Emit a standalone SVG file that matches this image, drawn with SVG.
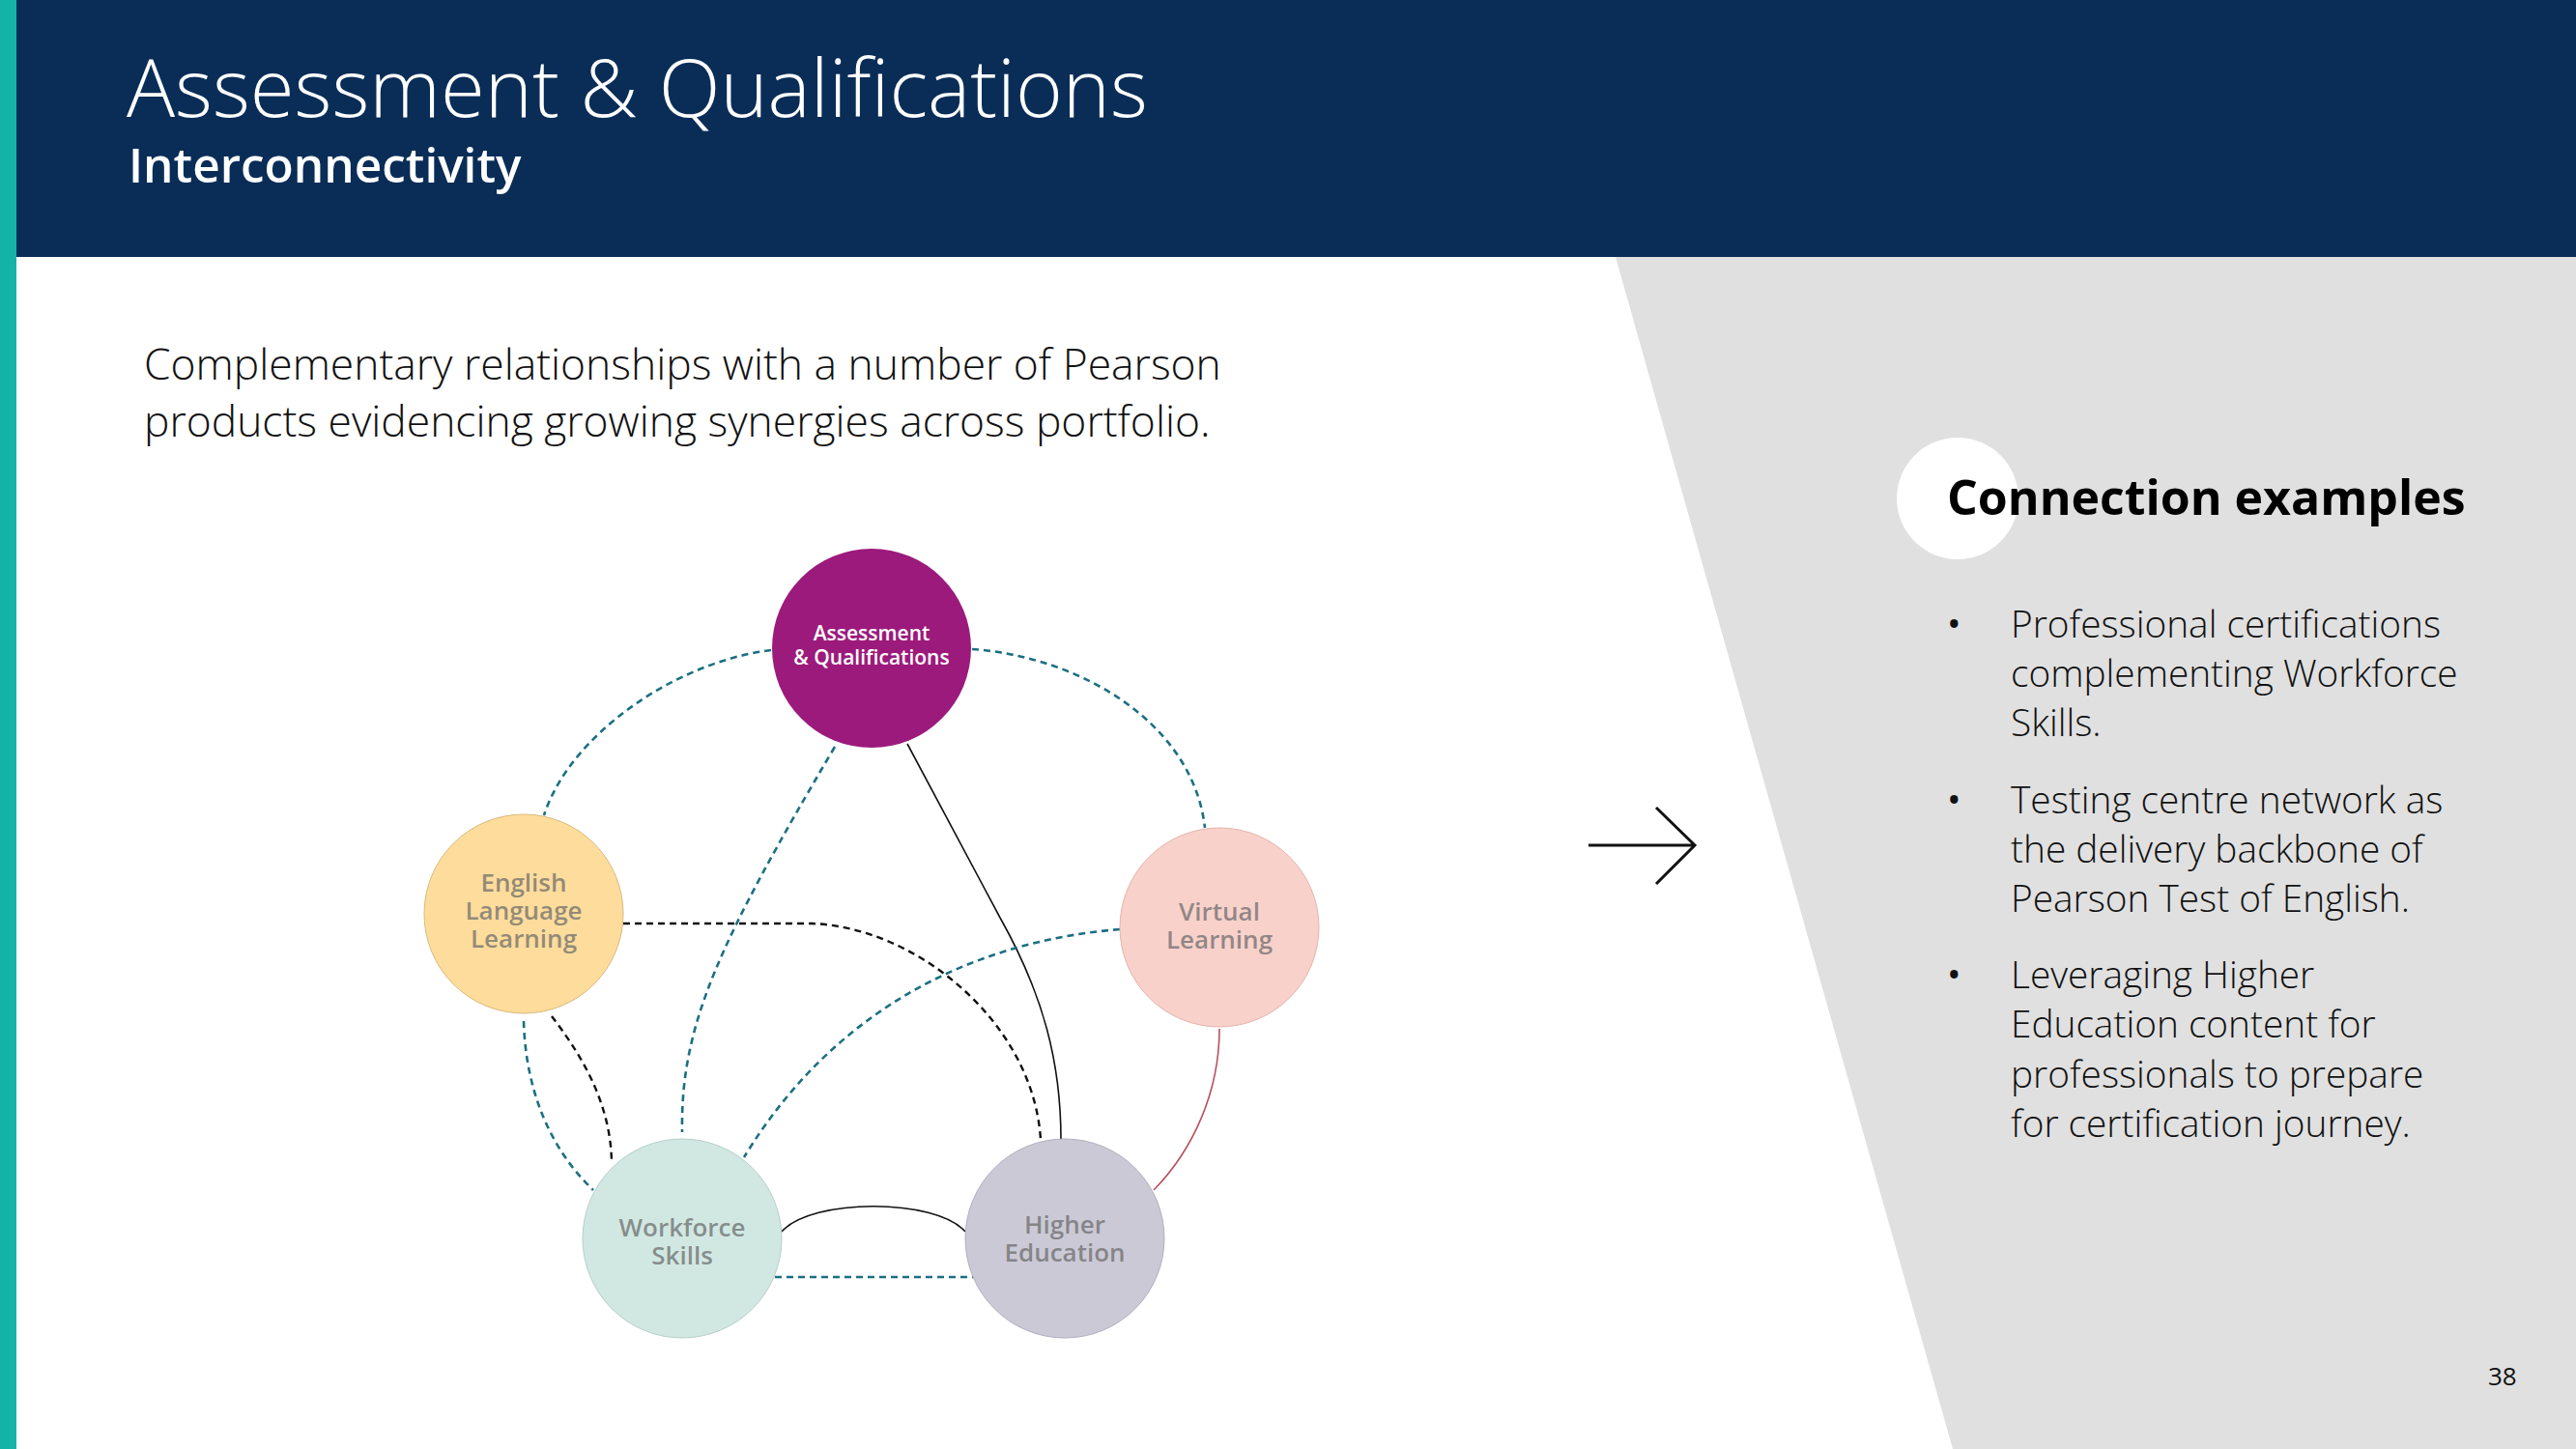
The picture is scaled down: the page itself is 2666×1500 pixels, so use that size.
<svg xmlns="http://www.w3.org/2000/svg" width="2666" height="1500" viewBox="0 0 2666 1500">
<style>
.light{font-family:"Open Sans","Liberation Sans",sans-serif;font-weight:300}
.nl{font-family:"Open Sans","Liberation Sans",sans-serif;font-weight:600;font-size:26px;text-anchor:middle;fill:#6a6a6a;fill-opacity:0.72}
.teal{fill:none;stroke:#1b6f82;stroke-width:2.6;stroke-dasharray:7 5}
.blk{fill:none;stroke:#111;stroke-width:2.4;stroke-dasharray:7 5}
.sol{fill:none;stroke:#111;stroke-width:1.6}
.body{font-family:"Open Sans","Liberation Sans",sans-serif;font-weight:300;font-size:38.8px;fill:#111}
.bul{font-weight:400}
</style>
<rect width="2666" height="1500" fill="#ffffff"/>
<polygon points="1672,266 2666,266 2666,1500 2021,1500" fill="#e0e0e0"/>
<rect x="0" y="0" width="2666" height="266" fill="#0a2d57"/>
<rect x="0" y="0" width="17" height="1500" fill="#14b3a8"/>
<text class="light" x="131" y="121" font-size="83.4" fill="#ffffff">Assessment &amp; Qualifications</text>
<text x="133" y="189" font-family="'Open Sans','Liberation Sans',sans-serif" font-weight="600" font-size="49.5" fill="#ffffff">Interconnectivity</text>
<text class="light" x="149" y="393" font-size="44.4" fill="#111">Complementary relationships with a number of Pearson</text>
<text class="light" x="149" y="452" font-size="44.4" fill="#111">products evidencing growing synergies across portfolio.</text>

<g id="connectors">
<path class="teal" d="M798,673 C700,685 590,760 563,844"/>
<path class="teal" d="M1006,672 C1120,680 1235,750 1247,857"/>
<path class="teal" d="M542,1057 C544,1130 570,1190 614,1232"/>
<path class="blk" d="M571,1052 C600,1090 632,1140 633,1203"/>
<path class="teal" d="M864,773 C745,975 704,1060 706,1172"/>
<path class="blk" d="M645,956 L840,956 C950,960 1070,1060 1077,1180"/>
<path class="sol" d="M939,770 L1035,950 C1080,1030 1098,1100 1098,1180"/>
<path class="teal" d="M1159,962 C1000,975 860,1050 770,1198"/>
<path fill="none" stroke="#b8505f" stroke-width="1.6" d="M1262,1065 C1262,1130 1235,1190 1194,1232"/>
<path class="sol" d="M809,1275 C840,1240 968,1240 999,1275" stroke-width="2"/>
<path class="teal" d="M802,1322 L1009,1322"/>
</g>

<g id="node-aq">
<circle cx="902" cy="671" r="103" fill="#9c1a7c"/>
<text x="902" y="663" font-family="'Open Sans','Liberation Sans',sans-serif" font-weight="600" font-size="21" fill="#ffffff" text-anchor="middle">Assessment</text>
<text x="902" y="688" font-family="'Open Sans','Liberation Sans',sans-serif" font-weight="600" font-size="21" fill="#ffffff" text-anchor="middle">&amp; Qualifications</text>
</g>
<g id="node-ell">
<circle cx="542" cy="946" r="103" fill="#fddc9c" stroke="#d9b97e" stroke-width="1"/>
<text class="nl" x="542" y="923">English</text>
<text class="nl" x="542" y="952">Language</text>
<text class="nl" x="542" y="981">Learning</text>
</g>
<g id="node-vl">
<circle cx="1262" cy="960" r="103" fill="#f8d1ca" stroke="#e4b5ad" stroke-width="1"/>
<text class="nl" x="1262" y="953">Virtual</text>
<text class="nl" x="1262" y="982">Learning</text>
</g>
<g id="node-ws">
<circle cx="706" cy="1282" r="103" fill="#d1e8e2" stroke="#b7cfc9" stroke-width="1"/>
<text class="nl" x="706" y="1280">Workforce</text>
<text class="nl" x="706" y="1309">Skills</text>
</g>
<g id="node-he">
<circle cx="1102" cy="1282" r="103" fill="#cbc9d6" stroke="#b2b0bf" stroke-width="1"/>
<text class="nl" x="1102" y="1277">Higher</text>
<text class="nl" x="1102" y="1306">Education</text>
</g>

<g id="arrow">
<path d="M1644,875 L1754,875 M1714,836 L1754,875 L1714,915" fill="none" stroke="#111" stroke-width="3"/>
</g>

<g id="panel">
<circle cx="2026" cy="516" r="63" fill="#ffffff"/>
<text x="2015" y="533" font-family="'Open Sans','Liberation Sans',sans-serif" font-weight="700" font-size="50" fill="#000">Connection examples</text>
<g class="body">
<text class="bul" x="2015" y="660">•</text>
<text x="2081" y="660">Professional certifications</text>
<text x="2081" y="711">complementing Workforce</text>
<text x="2081" y="762">Skills.</text>
<text class="bul" x="2015" y="842">•</text>
<text x="2081" y="842">Testing centre network as</text>
<text x="2081" y="893">the delivery backbone of</text>
<text x="2081" y="944">Pearson Test of English.</text>
<text class="bul" x="2015" y="1023">•</text>
<text x="2081" y="1023">Leveraging Higher</text>
<text x="2081" y="1074">Education content for</text>
<text x="2081" y="1126">professionals to prepare</text>
<text x="2081" y="1177">for certification journey.</text>
</g>
<text x="2575" y="1434" font-family="'Open Sans','Liberation Sans',sans-serif" font-size="26" fill="#111">38</text>
</g>
</svg>
